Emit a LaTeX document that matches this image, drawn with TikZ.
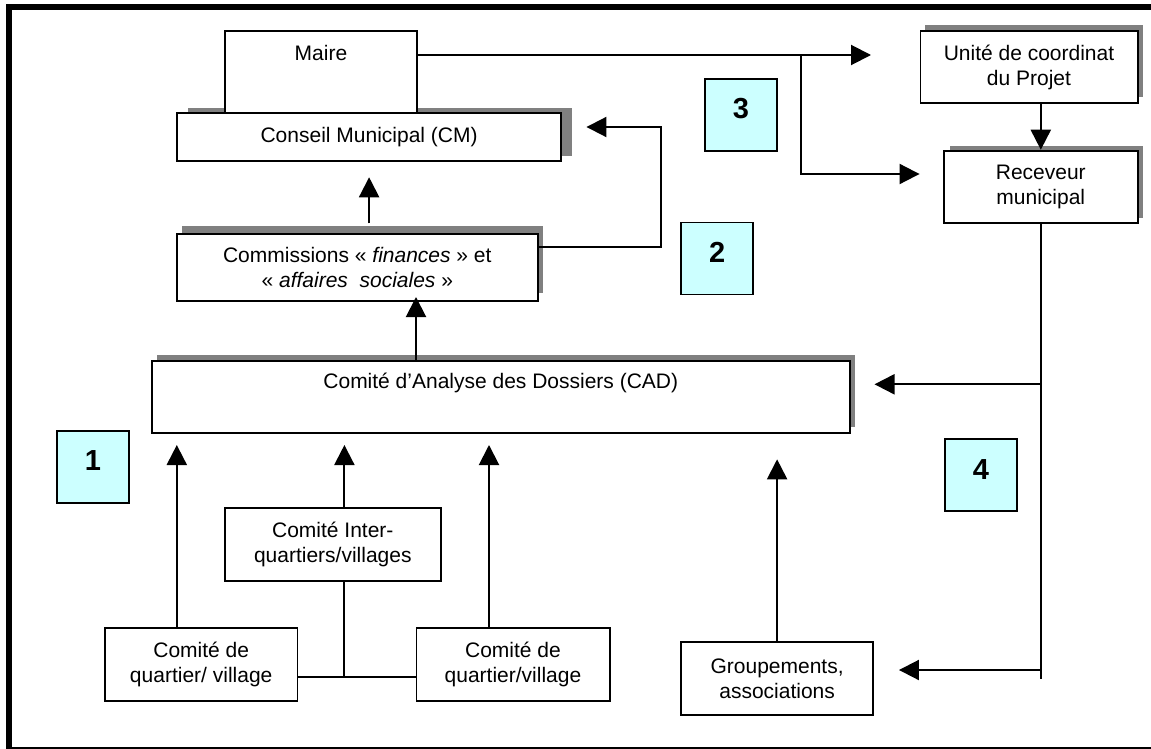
\documentclass[tikz,border=0pt]{standalone}
\usepackage{fontspec}
\setmainfont{Liberation Sans}
\usetikzlibrary{arrows.meta,shadows}
\definecolor{shgray}{HTML}{808080}
\definecolor{numcyan}{HTML}{CCFFFF}
\tikzset{
  box/.style={draw, line width=1.9pt, fill=white, font=\fontsize{21}{25}\selectfont, align=center, inner sep=0pt},
  shad/.style 2 args={drop shadow={shadow xshift=#1, shadow yshift=#2, fill=shgray, opacity=1}},
  numbox/.style={draw, line width=1.9pt, fill=numcyan, minimum width=72pt, minimum height=72pt,
    font=\fontsize{29}{30}\selectfont\bfseries, text height=20pt, text depth=12pt, inner sep=0pt},
  lbl/.style={font=\fontsize{21}{25}\selectfont, inner sep=0pt},
  conn/.style={line width=2pt},
  arr/.style={conn, -{Triangle[length=20pt, width=20pt]}},
}
\begin{document}
\begin{tikzpicture}[x=1pt, y=-1pt]
\useasboundingbox (0,0) rectangle (1151,749);
\fill[white] (0,0) rectangle (1151,749);
% frame
\draw[line width=6pt, line join=miter] (9,749) -- (9,7) -- (1151,7);
\draw[line width=1.5pt] (12,748) -- (1151,748);

% boxes
\node[box, shad={11pt}{5pt}, minimum width=384.6pt, minimum height=48.6pt] (cm) at (369.1,137) {Conseil Municipal (CM)};
\node[box, minimum width=192.5pt, minimum height=82.6pt] (maire) at (321,72) {};
\node[lbl] (mairet) at (321,53) {Maire};
\node[box, shad={5pt}{8pt}, minimum width=360.9pt, minimum height=66.7pt] (comm) at (357.3,267.7)
  {Commissions « \textit{finances} » et\\« \textit{affaires~~sociales} »};
\node[box, shad={5pt}{5.5pt}, minimum width=217.1pt, minimum height=72pt] (unite) at (1029,67) {Unité de coordinat\\du Projet};
\node[box, shad={5.5pt}{5pt}, minimum width=193.6pt, minimum height=72pt] (recv) at (1040.8,186.7) {Receveur\\municipal};
\node[box, shad={5pt}{6pt}, minimum width=697.5pt, minimum height=72.3pt] (cad) at (500.8,396.9) {};
\node[lbl] (cadt) at (500.8,383) {Comité d’Analyse des Dossiers (CAD)};
\node[box, minimum width=216.4pt, minimum height=72.7pt] (inter) at (332.8,544.4) {Comité Inter-\\quartiers/villages};
\node[box, minimum width=192.5pt, minimum height=72.4pt] (cq1) at (201.2,664.5) {Comité de\\quartier/ village};
\node[box, minimum width=193.1pt, minimum height=72.4pt] (cq2) at (513,664.5) {Comité de\\quartier/village};
\node[box, minimum width=192.6pt, minimum height=73pt] (grp) at (777.1,678.5) {Groupements,\\associations};

% number boxes
\node[numbox] (n1) at (93,466.7) {1};
\node[numbox] (n2) at (717.2,258.5) {2};
\node[numbox] (n3) at (741,115) {3};
\node[numbox] (n4) at (980.9,475.2) {4};

% helper coordinates
\coordinate (j1) at (801,55);
\coordinate (j2) at (801,174);
\coordinate (j3) at (661,247);
\coordinate (j4) at (661,127);
\coordinate (c1) at (176.8,500);
\coordinate (c3) at (489,500);
\coordinate (c4) at (416,330);
\coordinate (h1) at (344.4,676.7);
\coordinate (r1) at (1040.8,679.3);
\coordinate (r2) at (1040.8,384.3);
\coordinate (r3) at (1040.8,670);

% connectors
\draw[arr, shorten >=48.5pt] (maire.east |- j1) -- (unite.west |- j1);
\draw[arr, shorten >=23.5pt] (j1) -- (j2) -- (recv.west |- j2);
\draw[arr] (recv.north |- unite.south) -- (recv.north);
\draw[arr, shorten >=24.1pt] (comm.east |- j3) -- (j3) -- (j4) -- (cm.east |- j4);
\draw[arr, shorten >=15pt, shorten <=10pt] (cm.south |- comm.north) -- (cm.south);
\draw[arr, shorten >=-5pt] (cad.north -| c4) -- (comm.south -| c4);
\draw[arr, shorten >=11pt] (cq1.north -| c1) -- (cad.south -| c1);
\draw[arr, shorten >=11pt] (inter.north -| h1) -- (cad.south -| h1);
\draw[arr, shorten >=11pt] (cq2.north -| c3) -- (cad.south -| c3);
\draw[arr, shorten >=25.3pt] (grp.north) -- (cad.south -| grp.north);
\draw[conn] (inter.south -| h1) -- (h1);
\draw[conn] (cq1.east |- h1) -- (cq2.west |- h1);
\draw[conn] (recv.south) -- (r1);
\draw[arr, shorten >=24pt] (r2) -- (cad.east |- r2);
\draw[arr, shorten >=24.6pt] (r3) -- (grp.east |- r3);
\end{tikzpicture}
\end{document}
